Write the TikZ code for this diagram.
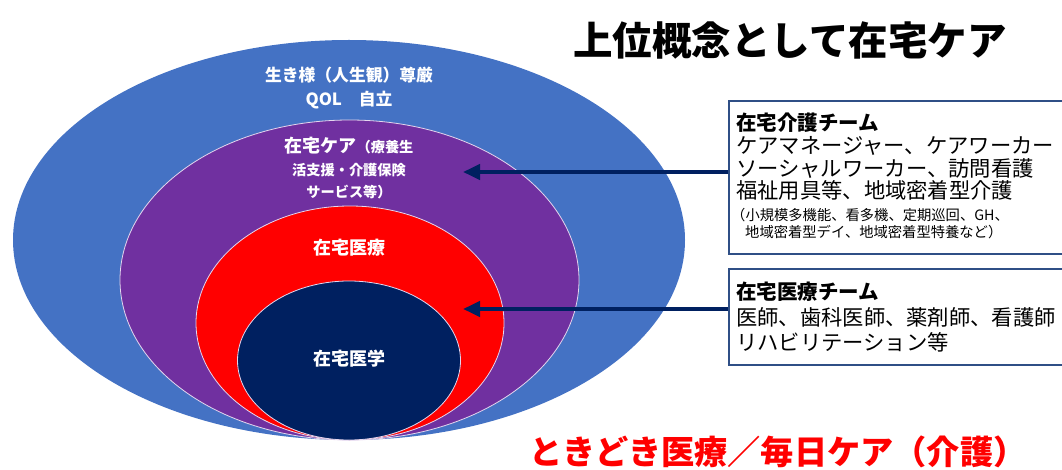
\documentclass[tikz,border=0pt]{standalone}
\usepackage{fontspec}
\setmainfont{Noto Sans CJK JP}
\usetikzlibrary{shapes.geometric,arrows.meta}
\definecolor{cblue}{HTML}{4472C4}
\definecolor{cpurple}{HTML}{7030A0}
\definecolor{cred}{HTML}{FF0000}
\definecolor{cnavy}{HTML}{002060}
\definecolor{cbox}{HTML}{2F4F86}
\definecolor{cedge}{HTML}{E4D6EE}
\newcommand{\fs}[1]{\fontsize{#1}{#1}\selectfont}
\tikzset{
  ring/.style={ellipse, inner sep=0pt, draw=cedge, line width=0.8pt},
  wtext/.style={text=white, inner sep=0pt, font=\bfseries},
  teambox/.style={draw=cbox, line width=2pt, fill=white, inner sep=0pt, anchor=north west},
  btext/.style={text=black, inner sep=0pt, anchor=west},
  arr/.style={draw=cnavy, line width=4pt, -{Triangle[length=17pt,width=15pt]}},
}
\begin{document}
\begin{tikzpicture}[x=1pt,y=-1pt]
\useasboundingbox (0,0) rectangle (1062,470);
\clip (0,0) rectangle (1062,470);
% ellipses
\node[ellipse, inner sep=0pt, fill=cblue, minimum width=672pt, minimum height=400pt] (blue) at (349,240) {};
\node[ring, fill=cpurple, minimum width=459pt, minimum height=320pt] (purple) at (349.5,280) {};
\node[ring, fill=cred, minimum width=308pt, minimum height=234pt] (red) at (350,323) {};
\node[ring, fill=cnavy, minimum width=223pt, minimum height=159pt] (navy) at (349,360.5) {};
% ellipse texts
\node[wtext, font=\bfseries\fs{16.8}] (t1) at (349,75) {生き様（人生観）尊厳};
\node[wtext, font=\bfseries\fs{16.8}] (t2) at (349,100) {QOL　自立};
\node[wtext] (t3) at (349,146) {{\fs{18}在宅ケア}{\fs{14.2}（療養生}};
\node[wtext, font=\bfseries\fs{14.2}] (t4) at (349,170) {活支援・介護保険};
\node[wtext, font=\bfseries\fs{14.2}] (t5) at (349,192) {サービス等）};
\node[wtext, font=\bfseries\fs{18}] (t6) at (349,248) {在宅医療};
\node[wtext, font=\bfseries\fs{18}] (t7) at (349,359) {在宅医学};
% boxes
\node[teambox, minimum width=342pt, minimum height=153pt] (boxA) at (728,100) {};
\node[teambox, minimum width=342pt, minimum height=96pt] (boxB) at (728,268) {};
% box texts
\node[btext, font=\bfseries\fs{20.5}] (a1) at (736,123) {在宅介護チーム};
\node[btext, font=\fs{21.3}] (a2) at (736,146) {ケアマネージャー、ケアワーカー};
\node[btext, font=\fs{21.3}] (a3) at (736,169) {ソーシャルワーカー、訪問看護};
\node[btext, font=\fs{21.3}] (a4) at (736,190.5) {福祉用具等、地域密着型介護};
\node[btext, font=\fs{14.3}] (a5) at (731,215) {（小規模多機能、看多機、定期巡回、GH、};
\node[btext, font=\fs{14.3}] (a6) at (745,232.5) {地域密着型デイ、地域密着型特養など）};
\node[btext, font=\bfseries\fs{20.5}] (b1) at (736,292) {在宅医療チーム};
\node[btext, font=\fs{21.3}] (b2) at (736,317) {医師、歯科医師、薬剤師、看護師};
\node[btext, font=\fs{21.3}] (b3) at (736,342) {リハビリテーション等};
% arrows
\coordinate (tipA) at (463,172);
\coordinate (tipB) at (463,309);
\draw[arr] (boxA.west |- tipA) -- (tipA);
\draw[arr] (boxB.west |- tipB) -- (tipB);
% titles
\node[inner sep=0pt, font=\bfseries\fs{39.5}] (title) at (790,40) {上位概念として在宅ケア};
\node[inner sep=0pt, text=cred, font=\bfseries\fs{33.2}] (foot) at (778,452) {ときどき医療／毎日ケア（介護）};
\end{tikzpicture}
\end{document}
